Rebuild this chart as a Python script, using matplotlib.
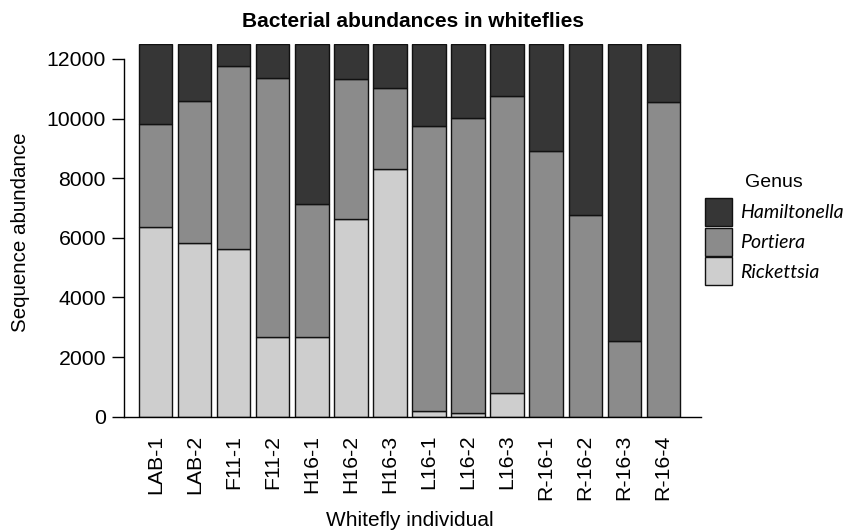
import numpy as np
import matplotlib
matplotlib.use('Agg')
import matplotlib.pyplot as plt
from matplotlib.patches import Patch

plt.rcParams['font.family'] = ['Liberation Sans', 'DejaVu Sans']

samples = ['LAB-1', 'LAB-2', 'F11-1', 'F11-2', 'H16-1', 'H16-2', 'H16-3',
           'L16-1', 'L16-2', 'L16-3', 'R-16-1', 'R-16-2', 'R-16-3', 'R-16-4']

# reads per genus (each individual rarefied to 12500)
rickettsia = [6360, 5840, 5620, 2680, 2680, 6640, 8320,
              190, 110, 800, 0, 0, 0, 0]
portiera = [3470, 4760, 6150, 8670, 4460, 4690, 2700,
            9550, 9910, 9970, 8900, 6750, 2530, 10550]
hamiltonella = [2670, 1900, 730, 1150, 5360, 1170, 1480,
                2760, 2480, 1730, 3600, 5750, 9970, 1950]

genus_names = ['Hamiltonella', 'Portiera', 'Rickettsia']
genus_colors = ['#363636', '#8b8b8b', '#cecece']

fig = plt.figure(figsize=(8.46, 5.32), dpi=100)
ax = fig.add_axes([0.1466, 0.2167, 0.682, 0.7006])

x = np.arange(len(samples))
ric = np.array(rickettsia)
por = np.array(portiera)
ham = np.array(hamiltonella)
bar_kw = dict(width=0.85, edgecolor='#111111', linewidth=1.0)
ax.bar(x, ric, color=genus_colors[2], **bar_kw)
ax.bar(x, por, bottom=ric, color=genus_colors[1], **bar_kw)
ax.bar(x, ham, bottom=ric + por, color=genus_colors[0], **bar_kw)

ax.set_xlim(-0.815, 13.97)
ax.set_ylim(0, 12500)
ax.set_yticks(np.arange(0, 12001, 2000))
ax.set_xticks(x)
ax.set_xticklabels(samples, rotation=90)

for side in ['top', 'right']:
    ax.spines[side].set_visible(False)
ax.spines['left'].set_bounds(0, 12000)
ax.spines['left'].set_linewidth(1.0)
ax.spines['bottom'].set_linewidth(1.0)
ax.tick_params(axis='y', length=9, width=1.0, pad=4, labelsize=15.3)
ax.tick_params(axis='x', length=0, pad=13, labelsize=15.3)

ax.set_ylabel('Sequence abundance', fontsize=14.8)
ax.yaxis.set_label_coords(-0.179, 0.494)
ax.yaxis.label.set_verticalalignment('center')
ax.set_xlabel('Whitefly individual', fontsize=15)
ax.xaxis.set_label_coords(0.496, -0.279)
ax.xaxis.label.set_verticalalignment('center')

ax.set_title('Bacterial abundances in whiteflies', fontsize=15,
             fontweight='bold', pad=12)

handles = [Patch(facecolor=c, edgecolor='#111111', linewidth=1.0)
           for c in genus_colors]
leg = fig.legend(handles, genus_names, loc='upper left',
                 bbox_to_anchor=(705 / 846, 1 - 174 / 532),
                 frameon=False, borderpad=0, borderaxespad=0,
                 handlelength=1.4, handleheight=1.85, labelspacing=0.08,
                 handletextpad=0.4,
                 prop={'family': 'Lato', 'style': 'italic', 'size': 14},
                 title='Genus', title_fontproperties={'size': 14})
leg._legend_box.sep = 5

fig.savefig('out.png', dpi=100)
